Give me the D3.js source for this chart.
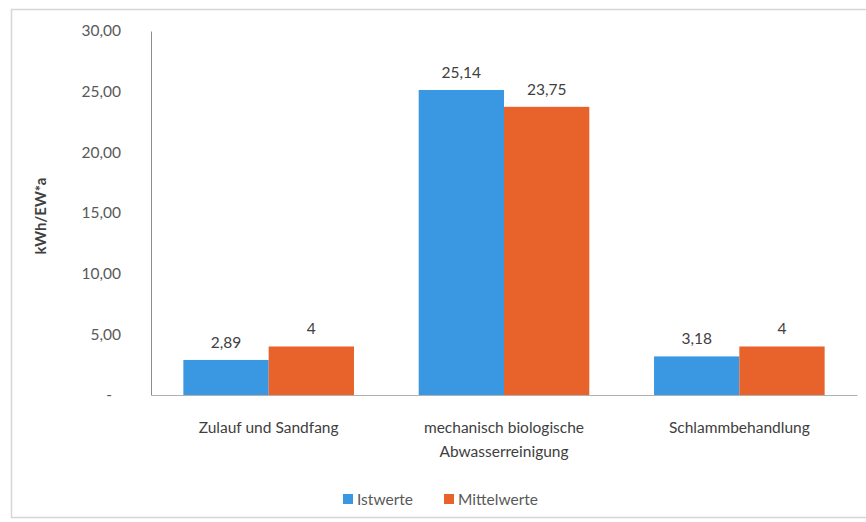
<!DOCTYPE html>
<html>
<head>
<meta charset="utf-8">
<script src="https://cdn.jsdelivr.net/npm/d3@7"></script>
<style>
  html, body { margin: 0; padding: 0; background: #fff; }
  svg text { font-family: Lato, "Open Sans", sans-serif; }
</style>
</head>
<body>
<svg id="chart" width="866" height="522"></svg>
<script>
// Energy consumption per process stage (kWh per population equivalent and year)
const categories = [
  ["Zulauf und Sandfang"],
  ["mechanisch biologische", "Abwasserreinigung"],
  ["Schlammbehandlung"]
];
const seriesNames = ["Istwerte", "Mittelwerte"];
const istwerte = [2.89, 25.14, 3.18];
const mittelwerte = [4, 23.75, 4];
const valueLabels = [["2,89", "25,14", "3,18"], ["4", "23,75", "4"]];
const yTicks = [0, 5, 10, 15, 20, 25, 30];
const yTickLabels = ["-", "5,00", "10,00", "15,00", "20,00", "25,00", "30,00"];
const colors = ["#3a98e3", "#e8622c"];

const svg = d3.select("#chart");

// outer frame
svg.append("rect")
  .attr("x", 11.5).attr("y", 9.5)
  .attr("width", 870).attr("height", 508)
  .attr("fill", "#fff").attr("stroke", "#d6d6d6").attr("stroke-width", 1.5);

const plot = { left: 151, right: 857, top: 31, bottom: 395 };

const x0 = d3.scaleBand()
  .domain(d3.range(categories.length))
  .range([plot.left, plot.right])
  .paddingInner(0.275)
  .paddingOuter(0.1375);

const x1 = d3.scaleBand()
  .domain(d3.range(seriesNames.length))
  .range([0, x0.bandwidth()]);

const y = d3.scaleLinear().domain([0, 30]).range([plot.bottom, plot.top]);

const series = [istwerte, mittelwerte];

// bars
const groups = svg.append("g").selectAll("g")
  .data(categories)
  .join("g")
  .attr("transform", (d, i) => `translate(${x0(i)},0)`);

groups.selectAll("rect")
  .data((d, i) => series.map((s, k) => ({ k, v: s[i] })))
  .join("rect")
  .attr("x", d => x1(d.k))
  .attr("y", d => y(d.v))
  .attr("width", x1.bandwidth())
  .attr("height", d => y(0) - y(d.v))
  .attr("fill", d => colors[d.k]);

// value labels
groups.selectAll("text.val")
  .data((d, i) => series.map((s, k) => ({ k, v: s[i], t: valueLabels[k][i] })))
  .join("text")
  .attr("class", "val")
  .attr("x", d => x1(d.k) + x1.bandwidth() / 2)
  .attr("y", d => y(d.v) - 12)
  .attr("text-anchor", "middle")
  .attr("font-size", 15.5)
  .attr("fill", "#404040")
  .text(d => d.t);

// y axis
const yAxis = d3.axisLeft(y)
  .tickValues(yTicks)
  .tickFormat((d, i) => yTickLabels[i])
  .tickSize(0)
  .tickPadding(30);

const gy = svg.append("g")
  .attr("transform", `translate(${plot.left},0)`)
  .call(yAxis);
gy.select(".domain").attr("stroke", "#8c8c8c").attr("stroke-width", 1);
gy.selectAll("text")
  .attr("font-size", 15.5)
  .attr("fill", "#595959")
  .attr("font-family", "Lato, sans-serif")
  .attr("dx", (d) => d === 0 ? -9 : 0);

// baseline
const xAxis = d3.axisBottom(x0).tickSize(0).tickFormat("");
const gx = svg.append("g")
  .attr("transform", `translate(0,${plot.bottom})`)
  .call(xAxis);
gx.select(".domain").attr("stroke", "#b0b0b0").attr("stroke-width", 1.2);

// category labels
svg.append("g").selectAll("text")
  .data(categories)
  .join("text")
  .attr("x", (d, i) => x0(i) + x0.bandwidth() / 2)
  .attr("y", 433)
  .attr("text-anchor", "middle")
  .attr("font-size", 15.5)
  .attr("fill", "#404040")
  .each(function(lines) {
    d3.select(this).selectAll("tspan")
      .data(lines)
      .join("tspan")
      .attr("x", d3.select(this).attr("x"))
      .attr("dy", (d, j) => j === 0 ? 0 : 24)
      .text(d => d);
  });

// y axis title
svg.append("text")
  .attr("transform", "translate(46,216) rotate(-90)")
  .attr("text-anchor", "middle")
  .attr("font-size", 15)
  .attr("font-weight", "bold")
  .attr("fill", "#404040")
  .text("kWh/EW*a");

// legend
const legend = svg.append("g").attr("transform", "translate(343,499)");
const items = [{ x: 0 }, { x: 101 }];
seriesNames.forEach((name, k) => {
  const g = legend.append("g").attr("transform", `translate(${items[k].x},0)`);
  g.append("rect").attr("x", 0).attr("y", -5).attr("width", 10).attr("height", 10)
    .attr("fill", colors[k]);
  g.append("text").attr("x", 14).attr("y", 5.5)
    .attr("font-size", 15.5).attr("fill", "#595959").text(name);
});
</script>
</body>
</html>
